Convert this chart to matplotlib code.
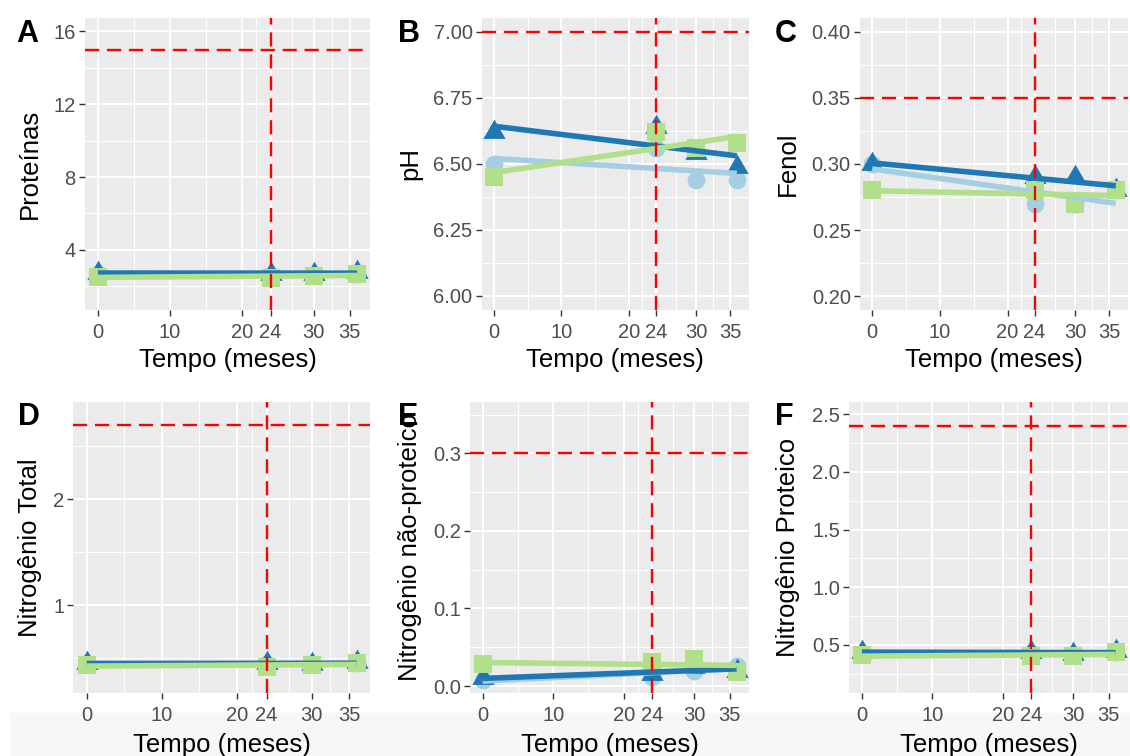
import numpy as np
import matplotlib
matplotlib.use("Agg")
import matplotlib.pyplot as plt
from matplotlib.path import Path
from matplotlib.patches import Rectangle

plt.rcParams['font.family'] = ['Liberation Sans', 'DejaVu Sans']

# dados (meses de armazenamento)
meses = [0, 24, 30, 36]
xticks = [0, 10, 20, 24, 30, 35]
xminor = [5, 15, 22, 27, 32.5]

prot_claro = [2.7, 2.6, 2.6, 2.7]
prot_escuro = [2.75, 2.7, 2.65, 2.8]
prot_verde = [2.53, 2.44, 2.58, 2.67]

ph_claro = [6.50, 6.56, 6.44, 6.44]
ph_escuro = [6.62, 6.64, 6.54, 6.49]
ph_verde = [6.45, 6.62, 6.56, 6.58]

fenol_claro = [0.30, 0.27, 0.27, 0.28]
fenol_escuro = [0.30, 0.29, 0.29, 0.28]
fenol_verde = [0.28, 0.28, 0.27, 0.28]

nt_claro = [0.45, 0.44, 0.44, 0.45]
nt_escuro = [0.45, 0.45, 0.44, 0.46]
nt_verde = [0.43, 0.42, 0.43, 0.455]

nnp_claro = [0.008, 0.012, 0.02, 0.026]
nnp_escuro = [0.01, 0.015, 0.025, 0.02]
nnp_verde = [0.028, 0.031, 0.035, 0.018]

np_claro = [0.43, 0.43, 0.42, 0.44]
np_escuro = [0.44, 0.435, 0.42, 0.445]
np_verde = [0.41, 0.40, 0.40, 0.44]

# limites de referencia
limites = [15, 7.0, 0.35, 2.7, 0.3, 2.4]
vlinha = 24

cores = ['#A6CEE3', '#1F78B4', '#B2DF8A']

# triangulo centrado no baricentro (como o pch 17 do R)
tri = Path([(0, 1), (-0.866, -0.5), (0.866, -0.5), (0, 1)],
           [Path.MOVETO, Path.LINETO, Path.LINETO, Path.CLOSEPOLY])
marcadores = ['o', tri, 's']
tamanhos = [12.8, 18.5, 12.6]

W, H = 1130, 756
fig = plt.figure(figsize=(W / 100, H / 100), dpi=100)
fig.patches.append(Rectangle((10 / W, 0), 1 - 10 / W, (H - 712.7) / H,
                             transform=fig.transFigure, color='#F7F7F7',
                             zorder=-5))

paineis = [
    dict(letra='A', ylab='Proteínas', series=[prot_claro, prot_escuro, prot_verde],
         ylim=(0.70, 16.73), yt=[4, 8, 12, 16], ytl=['4', '8', '12', '16'],
         ymin=[2, 6, 10, 14], box=(85, 370, 18, 310)),
    dict(letra='B', ylab='pH', series=[ph_claro, ph_escuro, ph_verde],
         ylim=(5.947, 7.052), yt=[6.0, 6.25, 6.5, 6.75, 7.0],
         ytl=['6.00', '6.25', '6.50', '6.75', '7.00'],
         ymin=[6.125, 6.375, 6.625, 6.875], box=(481.7, 749, 18, 310)),
    dict(letra='C', ylab='Fenol', series=[fenol_claro, fenol_escuro, fenol_verde],
         ylim=(0.1895, 0.4105), yt=[0.20, 0.25, 0.30, 0.35, 0.40],
         ytl=['0.20', '0.25', '0.30', '0.35', '0.40'],
         ymin=[0.225, 0.275, 0.325, 0.375], box=(860, 1128, 18, 310)),
    dict(letra='D', ylab='Nitrogênio Total', series=[nt_claro, nt_escuro, nt_verde],
         ylim=(0.173, 2.918), yt=[1, 2], ytl=['1', '2'],
         ymin=[0.5, 1.5, 2.5], box=(73.3, 370, 401.7, 692.7)),
    dict(letra='E', ylab='Nitrogênio não-proteico', series=[nnp_claro, nnp_escuro, nnp_verde],
         ylim=(-0.0086, 0.3665), yt=[0.0, 0.1, 0.2, 0.3],
         ytl=['0.0', '0.1', '0.2', '0.3'],
         ymin=[0.05, 0.15, 0.25, 0.35], box=(470, 749.3, 401.7, 692.7)),
    dict(letra='F', ylab='Nitrogênio Proteico', series=[np_claro, np_escuro, np_verde],
         ylim=(0.086, 2.609), yt=[0.5, 1.0, 1.5, 2.0, 2.5],
         ytl=['0.5', '1.0', '1.5', '2.0', '2.5'],
         ymin=[0.25, 0.75, 1.25, 1.75, 2.25], box=(849.3, 1128.3, 401.7, 692.7)),
]

ylab_x = {'A': 37, 'B': 417, 'C': 795, 'D': 36.7, 'E': 416.7, 'F': 795}
letra_pos = {'A': (16, 42), 'B': (398, 42), 'C': (775, 42),
             'D': (18, 425), 'E': (398, 425), 'F': (775, 425)}

for i, p in enumerate(paineis):
    l, r, t, b = p['box']
    ax = fig.add_axes([l / W, 1 - b / H, (r - l) / W, (b - t) / H])
    ax.set_facecolor('#EBEBEB')
    for s in ax.spines.values():
        s.set_visible(False)

    ax.set_xlim(-1.8, 37.8)
    ax.set_ylim(*p['ylim'])
    ax.set_xticks(xticks)
    ax.set_xticklabels([str(v) for v in xticks])
    ax.set_xticks(xminor, minor=True)
    ax.set_yticks(p['yt'])
    ax.set_yticklabels(p['ytl'])
    ax.set_yticks(p['ymin'], minor=True)
    ax.grid(True, which='major', color='white', lw=1.4)
    ax.grid(True, which='minor', color='white', lw=0.7)
    ax.set_axisbelow(True)
    ax.tick_params(which='major', length=4.3, width=1.0, color='#333333',
                   labelcolor='#4D4D4D', labelsize=14.5)
    ax.tick_params(axis='x', which='major', pad=5.0)
    ax.tick_params(axis='y', which='major', pad=2.3)
    ax.tick_params(which='minor', length=0)

    # pontos
    for ys, c, m, ms in zip(p['series'], cores, marcadores, tamanhos):
        ax.plot(meses, ys, ls='none', marker=m, ms=ms, color=c, mew=0, zorder=3)
    # retas de regressao
    xx = np.array([min(meses), max(meses)])
    for ys, c in zip(p['series'], cores):
        a, b0 = np.polyfit(meses, ys, 1)
        ax.plot(xx, a * xx + b0, color=c, lw=4.0, solid_capstyle='butt', zorder=4)

    ax.axhline(limites[i], color='#FF0000', lw=1.7, dashes=(6.0, 3.3), zorder=5)
    ax.axvline(vlinha, color='#FF0000', lw=1.7, dashes=(6.0, 3.3), zorder=5)

    # titulos dos eixos
    yb = 366.7 if t < 100 else 752
    fig.text((l + r) / 2 / W, 1 - yb / H, 'Tempo (meses)', ha='center',
             va='baseline', fontsize=18.5)
    fig.text(ylab_x[p['letra']] / W, 1 - (t + b) / 2 / H, p['ylab'], rotation=90,
             rotation_mode='anchor', ha='center', va='baseline', fontsize=18.5)
    lx, ly = letra_pos[p['letra']]
    fig.text(lx / W, 1 - ly / H, p['letra'], fontsize=22, fontweight='bold',
             ha='left', va='baseline')

fig.savefig('out.png', dpi=100)
